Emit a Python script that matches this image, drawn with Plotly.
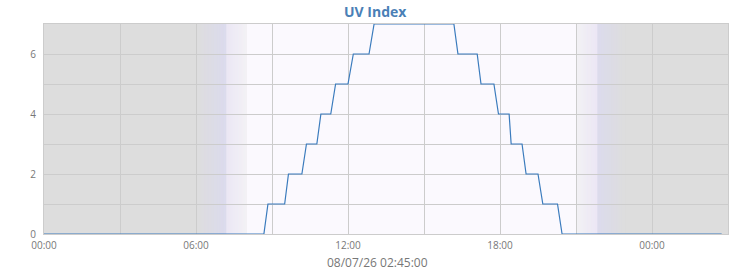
import plotly.graph_objects as go
from datetime import datetime, timedelta

# ---- data (hours after 2026-07-07 00:00, UV index) ----
uv_hours = [0.0, 8.68, 8.84, 9.50, 9.65, 10.18, 10.36, 10.77, 10.93, 11.32, 11.51,
            12.00, 12.21, 12.83, 13.03, 16.18, 16.34, 17.10, 17.25, 17.76, 17.94,
            18.36, 18.44, 18.87, 19.03, 19.50, 19.69, 20.27, 20.45, 26.75]
uv_values = [0, 0, 1, 1, 2, 2, 3, 3, 4, 4, 5,
             5, 6, 6, 7, 7, 6, 6, 5, 5, 4,
             4, 3, 3, 2, 2, 1, 1, 0, 0]

day_start = datetime(2026, 7, 7)
x_end_hours = 27.0
title_text = "UV Index"
stamp_text = "08/07/26 02:45:00"

# twilight times (hours)
dawn_h, sunrise_h, dayfull_h = 6.0, 7.2, 8.0
dayfade_h, sunset_h, dusk_h = 21.05, 21.85, 22.95

def t(h):
    return day_start + timedelta(hours=h)

xs = [t(h) for h in uv_hours]

night = (221, 221, 221)
twi = (220, 219, 242)
sun_edge = (240, 234, 253)
day = (251, 249, 254)

def mix(a, b, f):
    return "rgb(%d,%d,%d)" % tuple(round(a[i] + (b[i] - a[i]) * f) for i in range(3))

shapes = []
def grad(h0, h1, c0, c1, n=40):
    for i in range(n):
        a = h0 + (h1 - h0) * i / n
        b = h0 + (h1 - h0) * (i + 1) / n
        shapes.append(dict(type="rect", xref="x", yref="paper", x0=t(a), x1=t(b),
                           y0=0, y1=1, fillcolor=mix(c0, c1, (i + 0.5) / n),
                           line=dict(width=0), layer="below"))

grad(dawn_h, sunrise_h, night, twi)
grad(sunrise_h, dayfull_h, sun_edge, day)
shapes.append(dict(type="rect", xref="x", yref="paper", x0=t(dayfull_h), x1=t(dayfade_h),
                   y0=0, y1=1, fillcolor=mix(day, day, 0), line=dict(width=0), layer="below"))
grad(dayfade_h, sunset_h, day, sun_edge)
grad(sunset_h, dusk_h, twi, night)

fig = go.Figure()
fig.add_trace(go.Scatter(x=xs, y=uv_values, mode="lines",
                         line=dict(color="#3a7bbd", width=1.2), hoverinfo="skip"))

grid = "#cccccc"
fig.update_layout(
    width=750, height=270,
    margin=dict(l=44, r=22, t=24, b=36),
    paper_bgcolor="white", plot_bgcolor="rgb(221,221,221)",
    showlegend=False,
    shapes=shapes,
    font=dict(family="Open Sans", size=10, color="#777777"),
    annotations=[
        dict(text="<b>%s</b>" % title_text, xref="paper", yref="paper",
             x=(375 - 44) / 684, y=1, yshift=13, xanchor="center", yanchor="middle",
             showarrow=False, font=dict(family="Open Sans", size=14, color="#4a80b6")),
        dict(text=stamp_text, xref="paper", yref="paper",
             x=(377 - 44) / 684, y=0, yshift=-28, xanchor="center", yanchor="middle",
             showarrow=False, font=dict(family="Open Sans", size=12, color="#777777")),
    ],
)
fig.update_xaxes(
    range=[t(0), t(x_end_hours)], type="date",
    tick0=t(0), dtick=6 * 3600 * 1000, tickformat="%H:%M",
    showgrid=True, gridcolor=grid, gridwidth=1,
    minor=dict(dtick=3 * 3600 * 1000, showgrid=True, gridcolor=grid, gridwidth=1),
    showline=True, linecolor=grid, mirror=True, zeroline=False,
    ticks="", ticklabelstandoff=2, tickfont=dict(size=10, color="#777777"),
)
fig.update_yaxes(
    range=[0, 7], dtick=2, tick0=0,
    showgrid=True, gridcolor=grid, gridwidth=1,
    minor=dict(dtick=1, showgrid=True, gridcolor=grid, gridwidth=1),
    showline=True, linecolor=grid, mirror=True, zeroline=False,
    ticks="", ticklabelstandoff=5, tickfont=dict(size=10, color="#777777"),
)
fig.write_html("out.html")
